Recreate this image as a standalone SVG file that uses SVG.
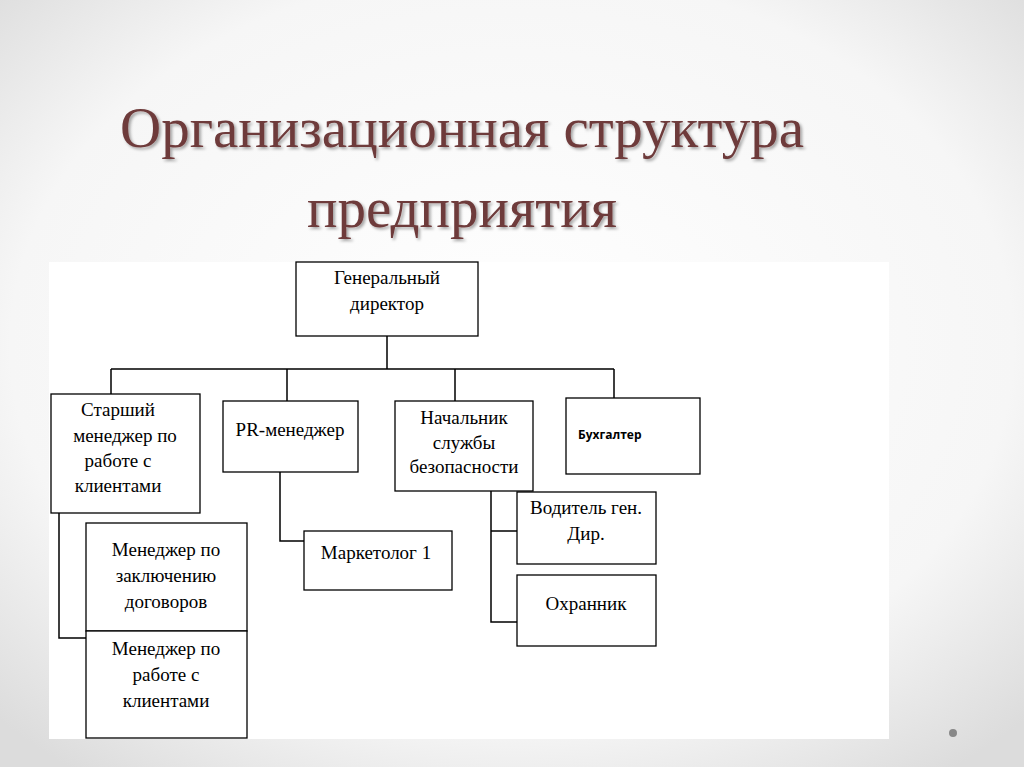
<svg xmlns="http://www.w3.org/2000/svg" width="1024" height="767" viewBox="0 0 1024 767">
<defs>
<radialGradient id="bg" cx="50%" cy="45%" r="70%">
<stop offset="0" stop-color="#ffffff"/><stop offset="0.7" stop-color="#f6f6f6"/><stop offset="1" stop-color="#dcdcdc"/>
</radialGradient>
<filter id="sh"><feDropShadow dx="2" dy="2" stdDeviation="1.5" flood-color="#000" flood-opacity="0.35"/></filter>
</defs>
<style>
.b{fill:#fff;stroke:#000;stroke-width:1.3}
.t{font-family:"Liberation Serif",serif;font-size:19px;fill:#000;text-anchor:middle}
.c{fill:none;stroke:#000;stroke-width:1.5}
.h{font-family:"Liberation Serif",serif;font-size:57px;fill:#6e3b3b;text-anchor:middle}
</style>
<rect width="1024" height="767" fill="url(#bg)"/>
<g filter="url(#sh)">
<text class="h" x="462" y="147">Организационная структура</text>
<text class="h" x="462" y="227">предприятия</text>
</g>
<rect x="49" y="262" width="840" height="477" fill="#fff"/>
<circle cx="953" cy="733" r="4" fill="#888"/>
<g id="connectors">
<path class="c" d="M387 336V369M111 369H614M111 369V394M287 369V401M455 369V401M614 369V398"/>
<path class="c" d="M59 513V638H86M280 472V541H304M491 491V622H517M491 531H517"/>
</g>
<g id="gen"><rect class="b" x="296" y="262" width="182" height="74"/><text class="t" x="387" y="284">Генеральный</text><text class="t" x="387" y="310">директор</text></g>
<g id="senior"><rect class="b" x="51" y="394" width="149" height="119"/><text class="t" x="118" y="416">Старший</text><text class="t" x="125" y="442">менеджер по</text><text class="t" x="118" y="467">работе с</text><text class="t" x="118" y="492">клиентами</text></g>
<g id="pr"><rect class="b" x="223" y="401" width="135" height="71"/><text class="t" x="290" y="436">PR-менеджер</text></g>
<g id="security"><rect class="b" x="395" y="401" width="138" height="90"/><text class="t" x="464" y="424">Начальник</text><text class="t" x="464" y="449">службы</text><text class="t" x="464" y="473">безопасности</text></g>
<g id="buh"><rect class="b" x="566" y="398" width="134" height="76"/><text x="578" y="439" style="font-family:'Open Sans',sans-serif;font-size:12px;font-weight:bold">Бухгалтер</text></g>
<g id="contracts"><rect class="b" x="86" y="523" width="161" height="108"/><text class="t" x="166" y="556">Менеджер по</text><text class="t" x="166" y="582">заключению</text><text class="t" x="166" y="608">договоров</text></g>
<g id="clients"><rect class="b" x="86" y="631" width="161" height="107"/><text class="t" x="166" y="655">Менеджер по</text><text class="t" x="166" y="681">работе с</text><text class="t" x="166" y="707">клиентами</text></g>
<g id="marketolog"><rect class="b" x="304" y="531" width="148" height="59"/><text class="t" x="376" y="559">Маркетолог 1</text></g>
<g id="driver"><rect class="b" x="517" y="492" width="139" height="72"/><text class="t" x="586" y="514">Водитель ген.</text><text class="t" x="586" y="540">Дир.</text></g>
<g id="guard"><rect class="b" x="517" y="575" width="139" height="71"/><text class="t" x="586" y="610">Охранник</text></g>
</svg>
